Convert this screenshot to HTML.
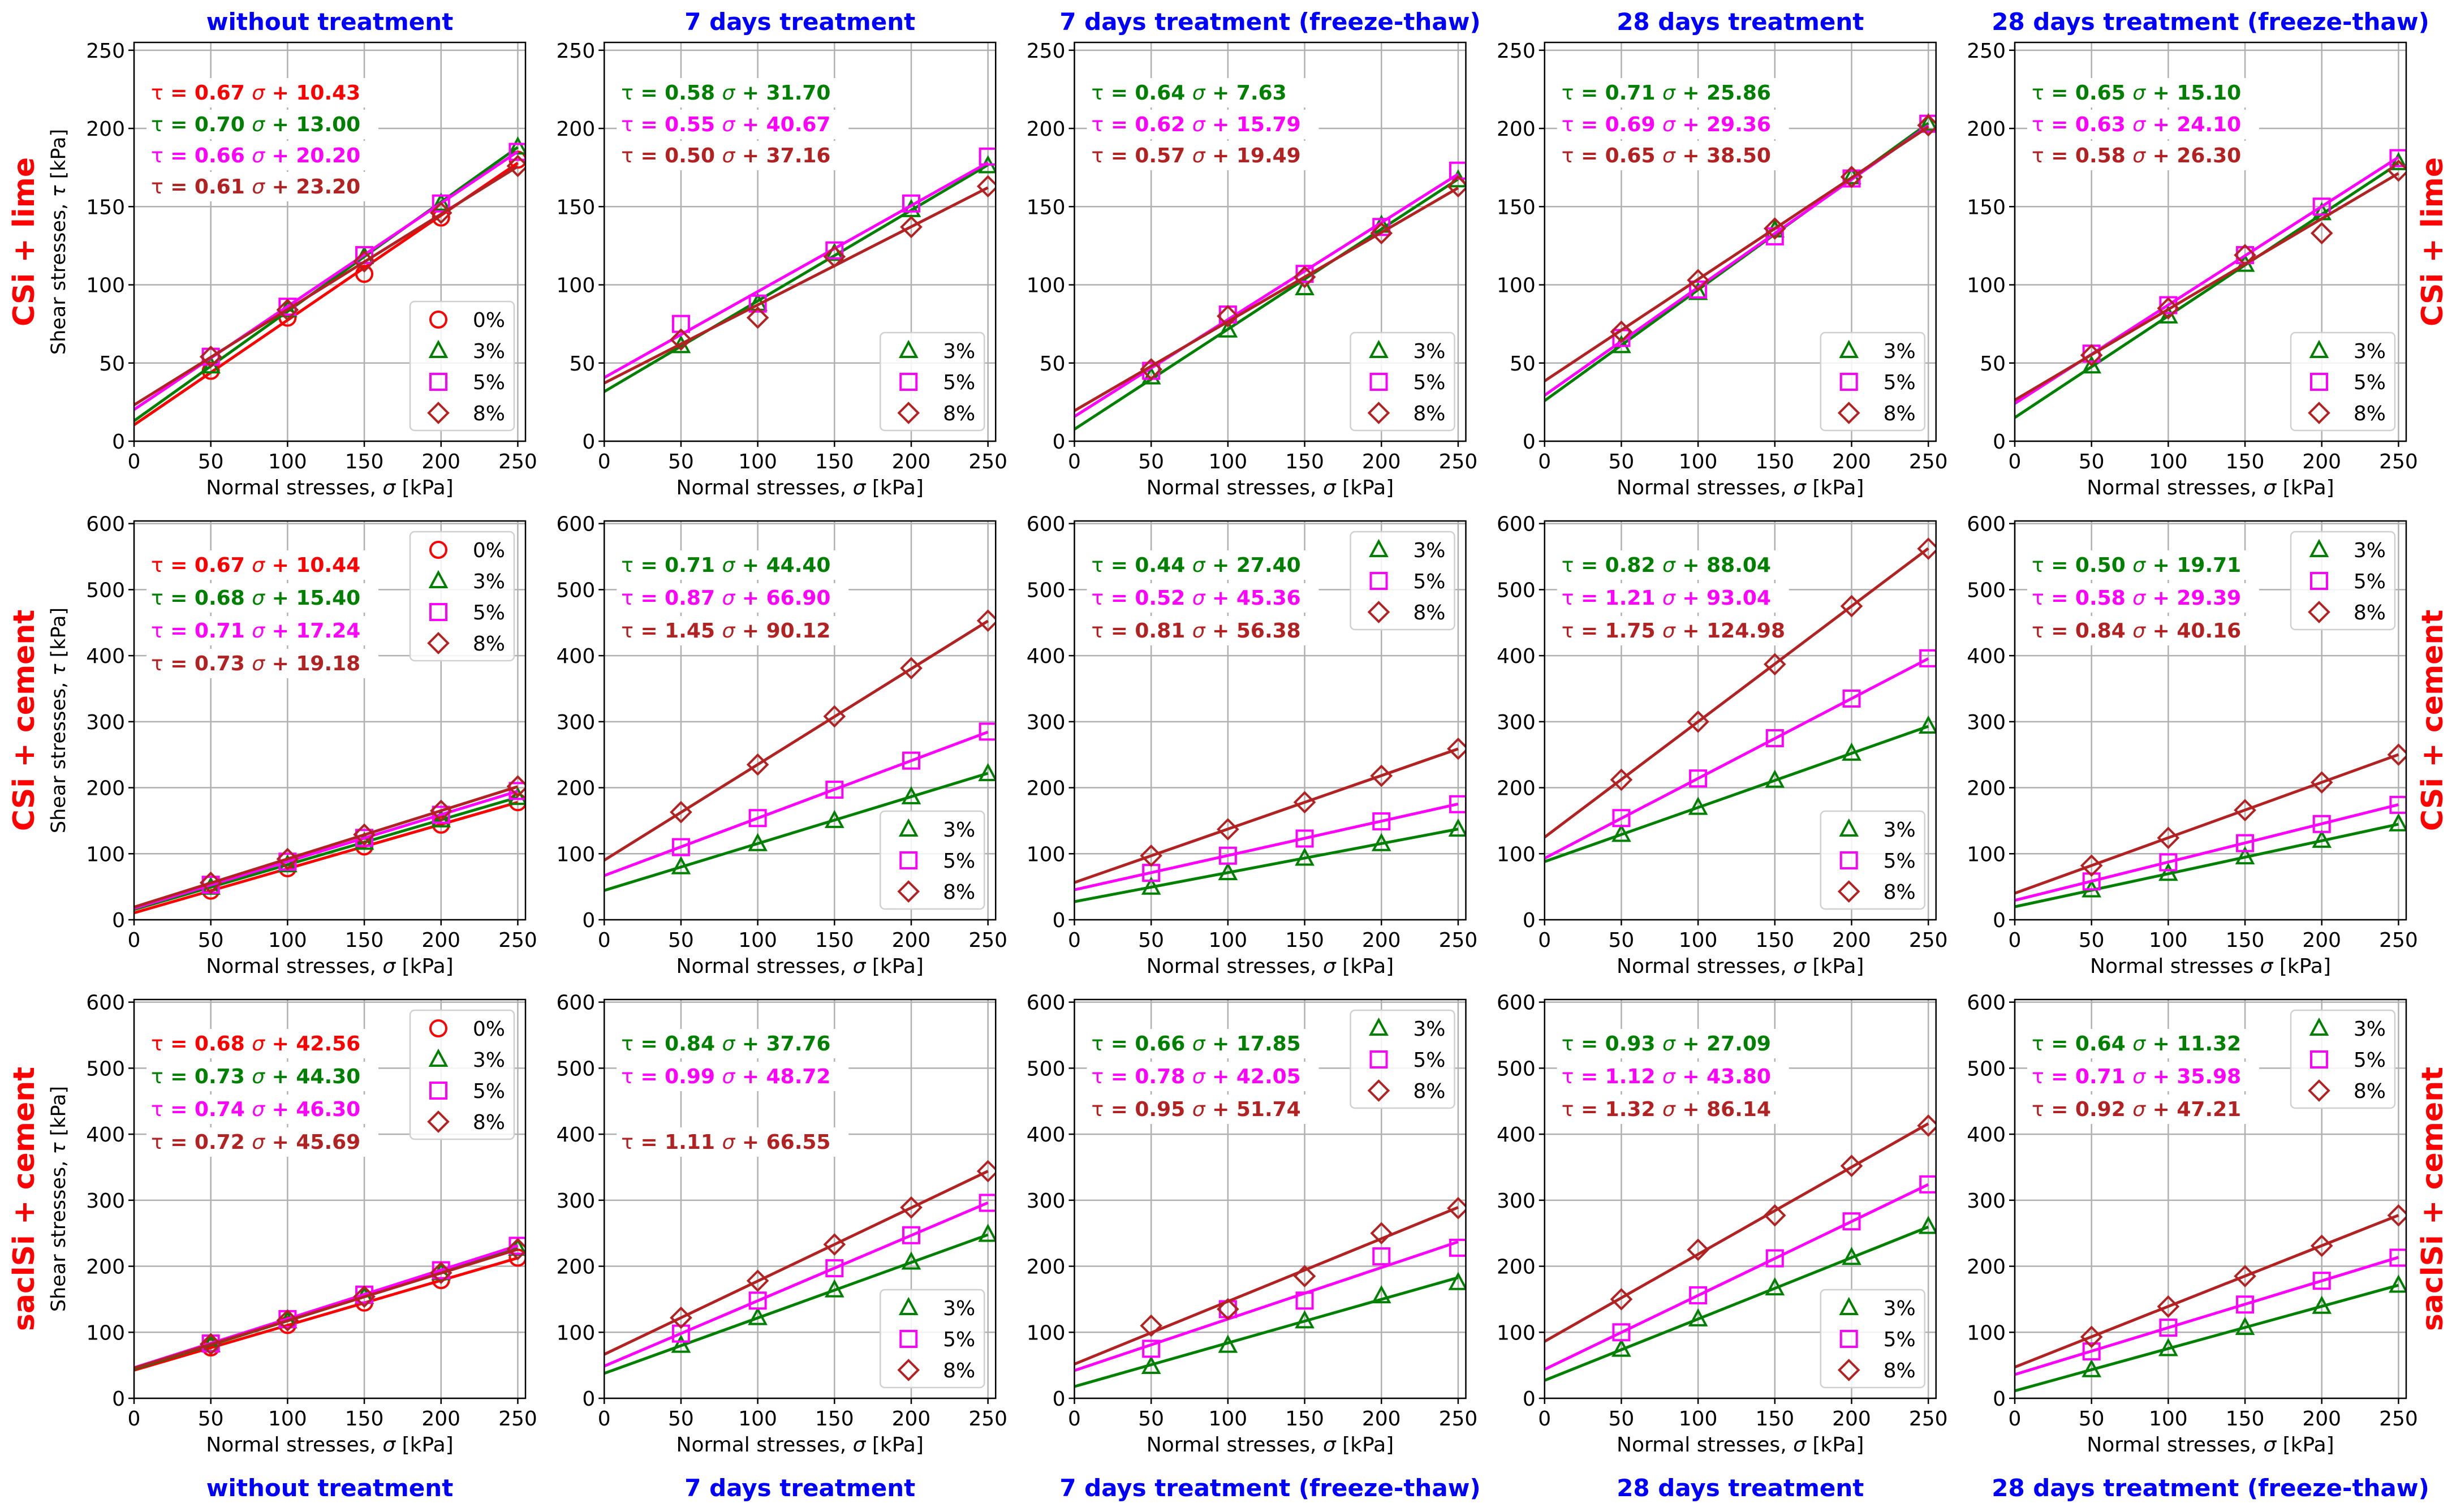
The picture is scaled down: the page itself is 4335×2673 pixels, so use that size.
<!DOCTYPE html>
<html><head><meta charset="utf-8">
<style>
html,body{margin:0;padding:0;background:#fff;}
svg{display:block;font-family:"DejaVu Sans","Liberation Sans",sans-serif;}
</style></head>
<body>
<svg id="fig" width="4335" height="2673" viewBox="0 0 4335 2673" xmlns="http://www.w3.org/2000/svg"></svg>
<script>
// ---- data ----
const xPoints = [50, 100, 150, 200, 250];
const colTitles = ['without treatment','7 days treatment','7 days treatment (freeze-thaw)','28 days treatment','28 days treatment (freeze-thaw)'];
const rowLabels = ['CSi + lime','CSi + cement','saclSi + cement'];
const row1Ticks = [0,50,100,150,200,250];
const row23Ticks = [0,100,200,300,400,500,600];
const xTicks = [0,50,100,150,200,250];

// row 1 (CSi + lime)
const p11_series = ['0%','3%','5%','8%'];
const p11_slope = [0.67,0.70,0.66,0.61];
const p11_int = [10.43,13.00,20.20,23.20];
const p11_y = [[45,79,107,143,180],[48,84,118,152,188],[54,86,119,152,185],[54,84,115,146,176]];
const p12_series = ['3%','5%','8%'];
const p12_slope = [0.58,0.55,0.50];
const p12_int = [31.70,40.67,37.16];
const p12_y = [[61,88,120,148,176],[75,88,122,152,182],[65,79,118,137,163]];
const p13_series = ['3%','5%','8%'];
const p13_slope = [0.64,0.62,0.57];
const p13_int = [7.63,15.79,19.49];
const p13_y = [[41,71,98,138,167],[45,81,107,137,173],[46,80,105,133,163]];
const p14_series = ['3%','5%','8%'];
const p14_slope = [0.71,0.69,0.65];
const p14_int = [25.86,29.36,38.50];
const p14_y = [[61,95,135,169,203],[66,97,131,168,203],[70,103,136,169,202]];
const p15_series = ['3%','5%','8%'];
const p15_slope = [0.65,0.63,0.58];
const p15_int = [15.10,24.10,26.30];
const p15_y = [[48,80,113,146,178],[56,87,119,150,181],[55,85,119,133,173]];
// row 2 (CSi + cement)
const p21_series = ['0%','3%','5%','8%'];
const p21_slope = [0.67,0.68,0.71,0.73];
const p21_int = [10.44,15.40,17.24,19.18];
const p21_y = [[44,78,111,144,178],[49,83,117,151,185],[53,88,124,159,195],[56,92,129,165,202]];
const p22_series = ['3%','5%','8%'];
const p22_slope = [0.71,0.87,1.45];
const p22_int = [44.40,66.90,90.12];
const p22_y = [[80,115,150,186,221],[110,154,197,241,285],[163,235,308,381,453]];
const p23_series = ['3%','5%','8%'];
const p23_slope = [0.44,0.52,0.81];
const p23_int = [27.40,45.36,56.38];
const p23_y = [[49,71,93,115,137],[71,97,123,149,175],[97,137,178,218,259]];
const p24_series = ['3%','5%','8%'];
const p24_slope = [0.82,1.21,1.75];
const p24_int = [88.04,93.04,124.98];
const p24_y = [[129,170,211,252,293],[154,214,275,335,396],[212,300,387,475,562]];
const p25_series = ['3%','5%','8%'];
const p25_slope = [0.50,0.58,0.84];
const p25_int = [19.71,29.39,40.16];
const p25_y = [[45,70,95,120,145],[58,87,116,145,174],[82,124,166,208,250]];
// row 3 (saclSi + cement)
const p31_series = ['0%','3%','5%','8%'];
const p31_slope = [0.68,0.73,0.74,0.72];
const p31_int = [42.56,44.30,46.30,45.69];
const p31_y = [[77,111,145,179,213],[81,117,154,190,227],[83,120,157,194,231],[82,118,154,190,226]];
const p32_series = ['3%','5%','8%'];
const p32_slope = [0.84,0.99,1.11];
const p32_int = [37.76,48.72,66.55];
const p32_y = [[80,122,164,206,248],[98,148,197,247,296],[122,178,233,289,344]];
const p33_series = ['3%','5%','8%'];
const p33_slope = [0.66,0.78,0.95];
const p33_int = [17.85,42.05,51.74];
const p33_y = [[48,80,117,155,175],[75,135,148,215,228],[110,135,185,250,288]];
const p34_series = ['3%','5%','8%'];
const p34_slope = [0.93,1.12,1.32];
const p34_int = [27.09,43.80,86.14];
const p34_y = [[74,120,167,213,260],[100,156,212,268,324],[150,225,277,352,413]];
const p35_series = ['3%','5%','8%'];
const p35_slope = [0.64,0.71,0.92];
const p35_int = [11.32,35.98,47.21];
const p35_y = [[43,75,107,139,171],[71,107,142,178,213],[93,139,185,231,277]];

const panelSeries = [[p11_series,p12_series,p13_series,p14_series,p15_series],[p21_series,p22_series,p23_series,p24_series,p25_series],[p31_series,p32_series,p33_series,p34_series,p35_series]];
const panelSlope = [[p11_slope,p12_slope,p13_slope,p14_slope,p15_slope],[p21_slope,p22_slope,p23_slope,p24_slope,p25_slope],[p31_slope,p32_slope,p33_slope,p34_slope,p35_slope]];
const panelInt = [[p11_int,p12_int,p13_int,p14_int,p15_int],[p21_int,p22_int,p23_int,p24_int,p25_int],[p31_int,p32_int,p33_int,p34_int,p35_int]];
const panelY = [[p11_y,p12_y,p13_y,p14_y,p15_y],[p21_y,p22_y,p23_y,p24_y,p25_y],[p31_y,p32_y,p33_y,p34_y,p35_y]];

// ---- layout ----
const NS='http://www.w3.org/2000/svg';
const svg=document.getElementById('fig');
const colLeft=[237,1068.25,1899.5,2730.75,3562];
const rowTop=[75,921,1767];
const AW=692, AH=705;
const XMAX=255;
const YMAX=[255,604,604];
const colors={'0%':'#ff0000','3%':'#008000','5%':'#ff00ff','8%':'#b22222'};
const markers={'0%':'circle','3%':'triangle','5%':'square','8%':'diamond'};
const legendPos=[['lr','lr','lr','lr','lr'],['ur','lr','ur','lr','ur'],['ur','lr','ur','lr','ur']];

function mk(tag,attrs,parent){const e=document.createElementNS(NS,tag);for(const k in attrs)e.setAttribute(k,attrs[k]);(parent||svg).appendChild(e);return e;}

function drawMarker(g,type,cx,cy,color){
  const s=14;let e;
  if(type==='circle'){e=mk('circle',{cx:cx,cy:cy,r:s},g);}
  else if(type==='square'){e=mk('rect',{x:cx-s,y:cy-s,width:2*s,height:2*s},g);}
  else if(type==='triangle'){e=mk('polygon',{points:`${cx},${cy-s-1} ${cx+s},${cy+s-3} ${cx-s},${cy+s-3}`},g);}
  else {e=mk('polygon',{points:`${cx},${cy-s-3} ${cx+s+3},${cy} ${cx},${cy+s+3} ${cx-s-3},${cy}`},g);}
  e.setAttribute('fill','none');e.setAttribute('stroke',color);e.setAttribute('stroke-width','4');
  return e;
}

for(let r=0;r<3;r++){
  for(let c=0;c<5;c++){
    const L=colLeft[c],T=rowTop[r],B=T+AH,R=L+AW,ym=YMAX[r];
    const sx=v=>L+v/XMAX*AW;
    const sy=v=>B-v/ym*AH;
    const g=mk('g',{});
    
    
    mk('rect',{x:L,y:T,width:AW,height:AH,fill:'#fff'},g);
    const yt=r===0?row1Ticks:row23Ticks;
    const grid=mk('g',{stroke:'#b0b0b0','stroke-width':2.5},g);
    
    
    xTicks.forEach(v=>mk('line',{x1:sx(v),x2:sx(v),y1:T,y2:B},grid));
    yt.forEach(v=>mk('line',{x1:L,x2:R,y1:sy(v),y2:sy(v)},grid));
    const xt=mk('g',{'font-size':36,fill:'#000','text-anchor':'middle'},g);
    
    
    xTicks.forEach(v=>{mk('line',{x1:sx(v),x2:sx(v),y1:B,y2:B+10,stroke:'#000','stroke-width':2.5},xt);const t=mk('text',{x:sx(v),y:B+48},xt);t.textContent=v;});
    const ytg=mk('g',{'font-size':36,fill:'#000','text-anchor':'end'},g);
    
    
    yt.forEach(v=>{mk('line',{x1:L-10,x2:L,y1:sy(v),y2:sy(v),stroke:'#000','stroke-width':2.5},ytg);const t=mk('text',{x:L-16,y:sy(v)+13},ytg);t.textContent=v;});
    const xl=mk('text',{x:L+AW/2,y:B+94,'font-size':36,'text-anchor':'middle',fill:'#000'},g);
    
    
    xl.innerHTML=(r===1&&c===4)?'Normal stresses <tspan font-style="italic">σ</tspan> [kPa]':'Normal stresses, <tspan font-style="italic">σ</tspan> [kPa]';
    if(c===0){
      const yl=mk('text',{x:0,y:0,'font-size':35,'text-anchor':'middle',fill:'#000',transform:`translate(${L-122},${T+AH/2}) rotate(-90)`},g);
      
      
      yl.innerHTML='Shear stresses, <tspan font-style="italic">τ</tspan> [kPa]';
    }
    const ser=panelSeries[r][c],sl=panelSlope[r][c],ic=panelInt[r][c],pts=panelY[r][c];
    const clip=mk('clipPath',{id:'clip'+r+c},g);
    mk('rect',{x:L,y:T,width:AW,height:AH},clip);
    ser.forEach((s,i)=>{
      const col=colors[s];
      const sg=mk('g',{'clip-path':`url(#clip${r}${c})`},g);
      
      
      const ln=mk('line',{x1:sx(0),y1:sy(ic[i]),x2:sx(250),y2:sy(ic[i]+sl[i]*250),stroke:col,'stroke-width':5},sg);
      
      
      xPoints.forEach((xv,j)=>{
        const m=drawMarker(sg,markers[s],sx(xv),sy(pts[i][j]),col);
        
        
      });
    });
    const slots=(r===2&&c===1)?[0,1,3]:ser.map((_,i)=>i);
    const eqOff=r===0?[88,144,199,254]:[77,135,193,251];
    ser.forEach((s,i)=>{
      const y=T+eqOff[slots[i]];
      mk('rect',{x:L+22,y:y-25,width:410,height:52,fill:'#fff'},g);
      const t=mk('text',{x:L+30,y:y+13,'font-size':36,'font-weight':'bold',fill:colors[s]},g);
      
      
      t.innerHTML=`<tspan font-weight="normal">τ</tspan> = ${sl[i].toFixed(2)} <tspan font-style="italic" font-weight="normal">σ</tspan> + ${ic[i].toFixed(2)}`;
    });
    const n=ser.length,lw=184,lh=n*55+8;
    const lx=R-20-lw;
    const ly=legendPos[r][c]==='lr'?B-19-lh:T+19;
    const lg=mk('g',{},g);
    
    
    mk('rect',{x:lx,y:ly,width:lw,height:lh,rx:8,fill:'#fff','fill-opacity':0.85,stroke:'#d0d0d0','stroke-width':2.5},lg);
    ser.forEach((s,i)=>{
      const cy=ly+32+i*55;
      const le=mk('g',{},lg);
      
      
      drawMarker(le,markers[s],lx+50,cy,colors[s]);
      const t=mk('text',{x:lx+168,y:cy+13,'font-size':36,'text-anchor':'end',fill:'#000'},le);
      t.textContent=s;
    });
    mk('rect',{x:L,y:T,width:AW,height:AH,fill:'none',stroke:'#000','stroke-width':2.5},g);
  }
}
colTitles.forEach((t,c)=>{
  const cx=colLeft[c]+AW/2;
  const a=mk('text',{x:cx,y:53,'font-size':42,'font-weight':'bold',fill:'#0000ff','text-anchor':'middle'});
  
  
  a.textContent=t;
  const b=mk('text',{x:cx,y:2645,'font-size':42,'font-weight':'bold',fill:'#0000ff','text-anchor':'middle'});
  
  
  b.textContent=t;
});
rowLabels.forEach((t,r)=>{
  const cy=rowTop[r]+AH/2;
  const a=mk('text',{x:0,y:0,'font-size':52,'font-weight':'bold',fill:'#ff0000','text-anchor':'middle',transform:`translate(60,${cy}) rotate(-90)`});
  
  
  a.textContent=t;
  const b=mk('text',{x:0,y:0,'font-size':52,'font-weight':'bold',fill:'#ff0000','text-anchor':'middle',transform:`translate(4318,${cy}) rotate(-90)`});
  
  
  b.textContent=t;
});
</script>
</body></html>
